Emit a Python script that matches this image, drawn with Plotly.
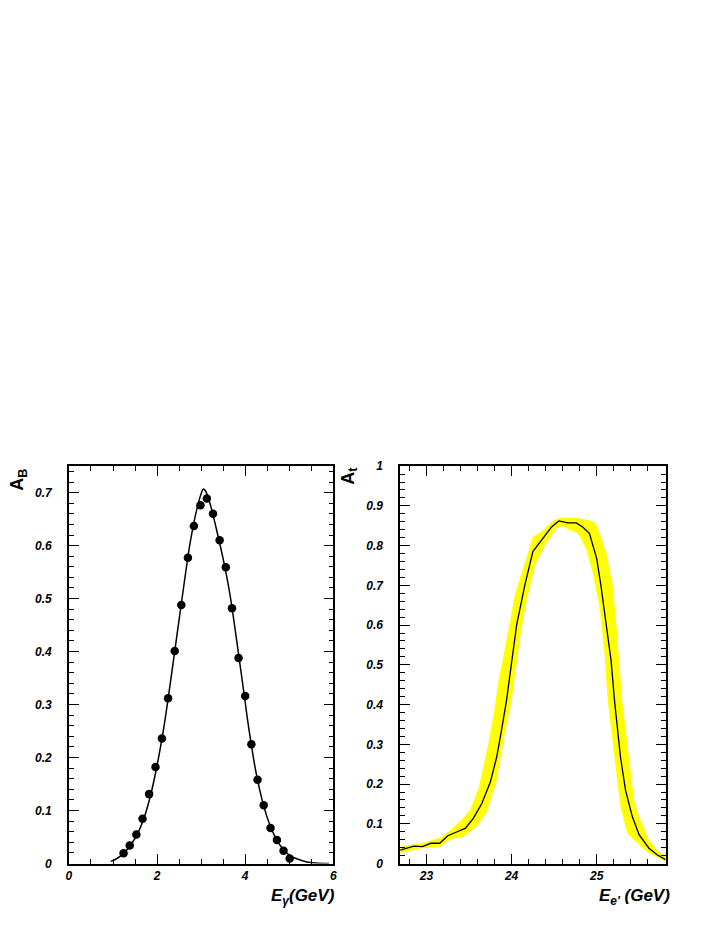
"""Dwa panele: akceptancja A_B(E_gamma) i A_t(E_e') z pasmem niepewności."""

import plotly.graph_objects as go

W, H = 719, 931

# --- lewy panel: punkty pomiarowe ---
eg_pkt = [1.24, 1.38, 1.53, 1.67, 1.82, 1.965, 2.11, 2.25, 2.40, 2.55, 2.70, 2.835,
          2.985, 3.13, 3.27, 3.42, 3.56, 3.70, 3.85, 4.00, 4.14, 4.28, 4.42, 4.575,
          4.72, 4.87, 5.01]
ab_pkt = [0.0195, 0.034, 0.055, 0.0845, 0.131, 0.182, 0.236, 0.312, 0.401, 0.488,
          0.577, 0.637, 0.676, 0.689, 0.660, 0.610, 0.559, 0.482, 0.388, 0.316,
          0.225, 0.158, 0.110, 0.067, 0.0445, 0.024, 0.0094]

# --- lewy panel: krzywa dopasowania ---
eg_fit = [0.95, 1.1, 1.25, 1.4, 1.55, 1.7, 1.85, 2.0, 2.15, 2.3, 2.45, 2.6, 2.75,
          2.9, 3.0, 3.05, 3.1, 3.2, 3.35, 3.5, 3.65, 3.8, 3.95, 4.1, 4.25, 4.4,
          4.55, 4.7, 4.85, 5.0, 5.2, 5.4, 5.6, 5.9]
ab_fit = [0.004, 0.010, 0.020, 0.035, 0.055, 0.085, 0.128, 0.185, 0.255, 0.340,
          0.430, 0.520, 0.605, 0.668, 0.698, 0.707, 0.703, 0.680, 0.630, 0.575,
          0.510, 0.425, 0.335, 0.245, 0.170, 0.115, 0.075, 0.047, 0.028, 0.016,
          0.008, 0.003, 0.001, 0.0]

# --- prawy panel: krzywa centralna ---
ee_lin = [22.69, 22.85, 22.95, 23.05, 23.155, 23.25, 23.36, 23.455, 23.55, 23.65,
          23.75, 23.825, 23.88, 23.94, 24.06, 24.155, 24.25, 24.35, 24.47, 24.555,
          24.66, 24.76, 24.835, 24.915, 25.0, 25.05, 25.11, 25.17, 25.21, 25.28,
          25.34, 25.42, 25.50, 25.615, 25.71, 25.81]
at_lin = [0.0335, 0.044, 0.0425, 0.051, 0.051, 0.070, 0.080, 0.0885, 0.1135, 0.151,
          0.205, 0.268, 0.334, 0.41, 0.601, 0.700, 0.785, 0.814, 0.847, 0.862,
          0.857, 0.857, 0.847, 0.831, 0.768, 0.700, 0.600, 0.510, 0.41, 0.268,
          0.184, 0.1175, 0.072, 0.0385, 0.022, 0.010]

# --- prawy panel: pasmo niepewności (krawędź górna i dolna) ---
ee_gora = [22.69, 22.95, 23.16, 23.28, 23.435, 23.51, 23.61, 23.71, 23.79, 23.845,
           23.90, 24.04, 24.135, 24.25, 24.35, 24.47, 24.565, 24.76, 24.915, 24.99,
           25.11, 25.19, 25.245, 25.30, 25.38, 25.44, 25.50, 25.615, 25.73, 25.81]
at_gora = [0.0425, 0.0525, 0.065, 0.084, 0.115, 0.134, 0.189, 0.284, 0.376, 0.46,
           0.518, 0.677, 0.743, 0.822, 0.835, 0.860, 0.870, 0.870, 0.864, 0.856,
           0.785, 0.700, 0.568, 0.41, 0.268, 0.159, 0.1175, 0.059, 0.030, 0.021]
ee_dol = [22.69, 22.95, 23.16, 23.28, 23.435, 23.59, 23.71, 23.825, 23.92, 24.0,
          24.10, 24.175, 24.27, 24.39, 24.525, 24.60, 24.68, 24.78, 24.875, 24.95,
          25.03, 25.09, 25.13, 25.21, 25.28, 25.36, 25.46, 25.615, 25.81]
at_dol = [0.026, 0.0385, 0.0425, 0.061, 0.0675, 0.0925, 0.130, 0.209, 0.326, 0.41,
          0.568, 0.660, 0.747, 0.800, 0.843, 0.850, 0.839, 0.831, 0.793, 0.735,
          0.651, 0.535, 0.41, 0.268, 0.1425, 0.076, 0.055, 0.026, 0.005]

FONT = "Liberation Sans"

fig = go.Figure()
fig.add_trace(go.Scatter(x=eg_fit, y=ab_fit, mode="lines", line_shape="spline",
                         line=dict(color="black", width=1.5),
                         xaxis="x", yaxis="y"))
fig.add_trace(go.Scatter(x=eg_pkt, y=ab_pkt, mode="markers",
                         marker=dict(color="black", size=8.5),
                         xaxis="x", yaxis="y"))
fig.add_trace(go.Scatter(x=ee_gora + ee_dol[::-1], y=at_gora + at_dol[::-1],
                         mode="lines", fill="toself", fillcolor="#ffff00",
                         line=dict(width=0, color="#ffff00"),
                         xaxis="x2", yaxis="y2"))
fig.add_trace(go.Scatter(x=ee_lin, y=at_lin, mode="lines",
                         line=dict(color="black", width=1.3),
                         xaxis="x2", yaxis="y2"))

tickfont = dict(family=FONT, size=12, color="black", weight="bold", style="italic")
wspolne = dict(showline=True, linecolor="black", linewidth=1.5, mirror="allticks",
               ticks="inside", ticklen=10, tickcolor="black", tickwidth=1,
               showgrid=False, zeroline=False, tickfont=tickfont)

def minor(dt):
    return dict(dtick=dt, ticks="inside", ticklen=5, tickcolor="black",
                tickwidth=1, showgrid=False)

# pozycje ramek w pikselach (skorygowane o przesunięcie strony)
L1, R1, L2, R2 = 58.5, 325.5, 393, 661
TOP, BOT = 458, 861.5
y0, y1 = 1 - BOT / H, 1 - TOP / H
fig.update_layout(
    width=W, height=H, margin=dict(l=0, r=0, t=0, b=0),
    paper_bgcolor="white", plot_bgcolor="white", showlegend=False,
    xaxis=dict(domain=[L1 / W, R1 / W], range=[0, 6], dtick=2, tick0=0,
               minor=minor(0.5), anchor="y", ticklabelstandoff=0, **wspolne),
    yaxis=dict(domain=[y0, y1], range=[0, 0.75], dtick=0.1, tick0=0,
               minor=minor(0.02), anchor="x", ticklabelstandoff=13, **wspolne),
    xaxis2=dict(domain=[L2 / W, R2 / W], range=[22.69, 25.81], dtick=1,
                tick0=23, minor=dict(minor(0.2), tick0=23), anchor="y2",
                ticklabelstandoff=0, **wspolne),
    yaxis2=dict(domain=[y0, y1], range=[0, 1], dtick=0.1, tick0=0,
                minor=minor(0.02), anchor="x2", ticklabelstandoff=13, **wspolne),
)

tytul = dict(family=FONT, size=17, color="black", weight="bold", style="italic")
tytul_y = dict(family=FONT, size=18, color="black", weight="bold")
fig.add_annotation(text="E<sub>γ</sub>(GeV)", xref="paper", yref="paper",
                   x=329 / W, y=1 - 895 / H, xanchor="right", yanchor="middle",
                   showarrow=False, font=tytul)
fig.add_annotation(text="E<sub>e'</sub> (GeV)", xref="paper", yref="paper",
                   x=667 / W, y=1 - 895 / H, xanchor="right", yanchor="middle",
                   showarrow=False, font=tytul)
fig.add_annotation(text="A<sub>B</sub>", xref="paper", yref="paper",
                   x=8 / W, y=1 - 472 / H, xanchor="center", yanchor="middle",
                   textangle=-90, showarrow=False, font=tytul_y)
fig.add_annotation(text="A<sub>t</sub>", xref="paper", yref="paper",
                   x=342 / W, y=1 - 468 / H, xanchor="center", yanchor="middle",
                   textangle=-90, showarrow=False, font=tytul_y)

fig.write_html("out.html")
